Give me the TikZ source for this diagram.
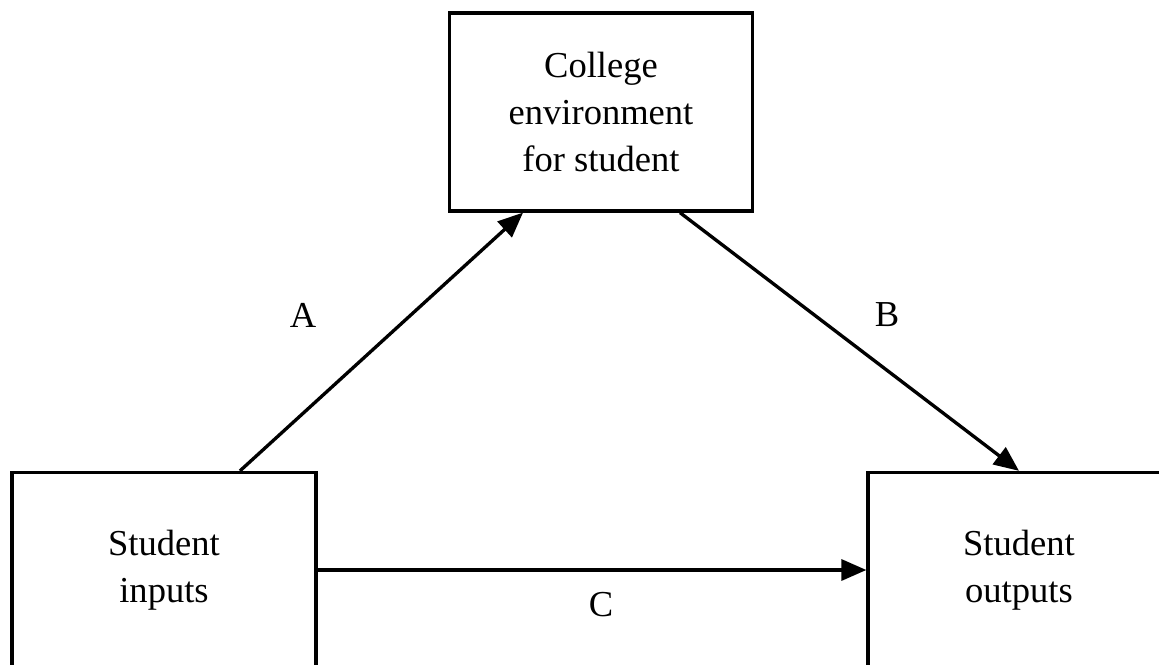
\documentclass[tikz,border=0pt]{standalone}
\usepackage{fontspec}
\setmainfont{Liberation Serif}
\usetikzlibrary{arrows.meta,calc}

\begin{document}
\begin{tikzpicture}[x=0.02cm, y=-0.02cm,
    box/.style={draw, line width=1.9pt, align=center, inner sep=0pt,
        font=\fontsize{20.8}{26.8}\selectfont},
    link/.style={line width=1.9pt, -{Triangle[length=0.5cm,width=0.42cm]}},
    tag/.style={font=\fontsize{20.8}{26.8}\selectfont}]
    \useasboundingbox (0,0) rectangle (1159,665);
    \node[box, minimum width=6.06cm, minimum height=3.96cm] (env) at (601,112) {College\\environment\\for student};
    \node[box, minimum width=6.08cm, minimum height=3.9cm] (inputs) at (164,570) {Student\\inputs};
    \node[box, minimum width=6.04cm, minimum height=3.9cm] (outputs) at (1019,570) {Student\\outputs};
    \draw[link] ($(inputs.north)+(76,0)$) -- ($(env.south)+(-78,0)$);
    \draw[link] ($(env.south)+(79,0)$) -- (outputs.north);
    \draw[link] (inputs.east) -- (outputs.west);
    \node[tag] (la) at (303,315) {A};
    \node[tag] (lb) at (887,315) {B};
    \node[tag] (lc) at (601,605) {C};
\end{tikzpicture}
\end{document}
